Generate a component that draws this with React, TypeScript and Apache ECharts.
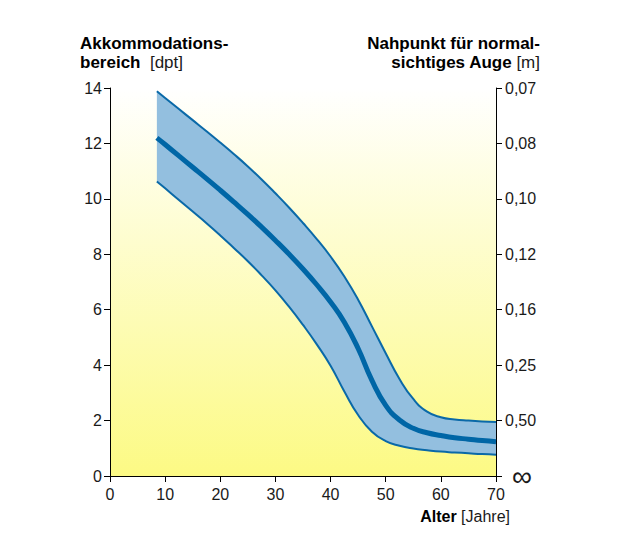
import React, { useEffect, useRef } from "react";
import * as echarts from "echarts";

const ages = [8.5, 10, 12.5, 15, 17.5, 20, 22.5, 25, 27.5, 30, 32.5, 35, 37.5, 40, 42.5, 45, 47.5, 50, 52.5, 55, 57.5, 60, 62.5, 65, 67.5, 70];
const upperValues = [13.88, 13.64, 13.24, 12.84, 12.44, 12.03, 11.61, 11.17, 10.7, 10.2, 9.68, 9.13, 8.55, 7.92, 7.2, 6.36, 5.4, 4.43, 3.5, 2.78, 2.32, 2.12, 2.04, 2.0, 1.97, 1.95];
const middleValues = [12.2, 11.96, 11.55, 11.14, 10.73, 10.31, 9.88, 9.44, 8.98, 8.5, 8.0, 7.47, 6.9, 6.28, 5.55, 4.6, 3.45, 2.55, 2.02, 1.72, 1.56, 1.46, 1.38, 1.33, 1.28, 1.24];
const lowerValues = [10.63, 10.38, 9.96, 9.54, 9.12, 8.68, 8.22, 7.75, 7.24, 6.7, 6.1, 5.45, 4.75, 3.98, 3.05, 2.2, 1.6, 1.26, 1.09, 0.99, 0.93, 0.88, 0.85, 0.82, 0.79, 0.77];
const leftTicks = [0, 2, 4, 6, 8, 10, 12, 14];
const rightTickLabels = ["∞", "0,50", "0,25", "0,16", "0,12", "0,10", "0,08", "0,07"];
const xTicks = [0, 10, 20, 30, 40, 50, 60, 70];

const FONT = "'Liberation Sans', Arial, sans-serif";

export default function App() {
  const ref = useRef<HTMLDivElement>(null);
  useEffect(() => {
    if (!ref.current) return;
    const chart = echarts.init(ref.current, null, { renderer: "svg" });
    const pairs = (vals: number[]) => ages.map((a, i) => [a, vals[i]]);
    // value first, age second, so that stacking happens on the value dimension
    const swapped = (vals: number[]) => ages.map((a, i) => [vals[i], a]);
    const bandWidth = upperValues.map((u, i) => u - lowerValues[i]);
    const lineColor = "#0a69a8";
    const smooth = 0.5;
    chart.setOption({
      animation: false,
      backgroundColor: "#ffffff",
      textStyle: { fontFamily: FONT },
      grid: {
        left: 110,
        right: 128,
        top: 88,
        bottom: 61,
        show: true,
        borderWidth: 0,
        backgroundColor: new echarts.graphic.LinearGradient(0, 0, 0, 1, [
          { offset: 0, color: "#ffffff" },
          { offset: 1, color: "#fcfa84" },
        ]),
      },
      xAxis: {
        type: "value",
        min: 0,
        max: 70,
        interval: 10,
        axisLine: { show: true, lineStyle: { color: "#000", width: 1 } },
        axisTick: { show: true, length: 6, lineStyle: { color: "#000" } },
        splitLine: { show: false },
        axisLabel: {
          margin: 10,
          fontSize: 16,
          color: "#1a1a1a",
          fontFamily: FONT,
          formatter: (v: number) => (xTicks.includes(v) ? String(v) : ""),
        },
      },
      yAxis: [
        {
          type: "value",
          min: 0,
          max: 14,
          interval: 2,
          position: "left",
          axisLine: { show: true, lineStyle: { color: "#000", width: 1 } },
          axisTick: { show: true, length: 6, lineStyle: { color: "#000" } },
          splitLine: { show: false },
          axisLabel: {
            margin: 8,
            fontSize: 16,
            color: "#1a1a1a",
            fontFamily: FONT,
            formatter: (v: number) => (leftTicks.includes(v) ? String(v) : ""),
          },
        },
        {
          type: "value",
          min: 0,
          max: 14,
          interval: 2,
          position: "right",
          axisLine: { show: true, lineStyle: { color: "#000", width: 1 } },
          axisTick: { show: true, length: 6, lineStyle: { color: "#000" } },
          splitLine: { show: false },
          axisLabel: {
            margin: 9,
            fontSize: 16,
            color: "#1a1a1a",
            fontFamily: FONT,
            formatter: (v: number) => {
              const idx = leftTicks.indexOf(v);
              if (idx === 0) return "{inf|∞}";
              return idx >= 0 ? rightTickLabels[idx] : "";
            },
            rich: {
              inf: { fontSize: 28, fontFamily: FONT, color: "#1a1a1a", padding: [0, 0, 0, 7] },
            },
          },
        },
      ],
      series: [
        {
          type: "line",
          stack: "band",
          data: swapped(lowerValues),
          encode: { x: 1, y: 0 },
          smooth,
          symbol: "none",
          lineStyle: { opacity: 0 },
          silent: true,
          z: 1,
        },
        {
          type: "line",
          stack: "band",
          data: swapped(bandWidth),
          encode: { x: 1, y: 0 },
          smooth,
          symbol: "none",
          lineStyle: { opacity: 0 },
          areaStyle: { color: "#93bfdf", opacity: 1 },
          silent: true,
          z: 1,
        },
        {
          type: "line",
          data: pairs(upperValues),
          smooth,
          symbol: "none",
          lineStyle: { color: lineColor, width: 2 },
          z: 3,
        },
        {
          type: "line",
          data: pairs(lowerValues),
          smooth,
          symbol: "none",
          lineStyle: { color: lineColor, width: 2 },
          z: 3,
        },
        {
          type: "line",
          data: pairs(middleValues),
          smooth,
          symbol: "none",
          lineStyle: { color: "#0066a6", width: 5 },
          z: 4,
        },
      ],
      graphic: [
        {
          type: "text",
          left: 80,
          top: 35,
          style: {
            text: "{b|Akkommodations-}\n{b|bereich}{n|  [dpt]}",
            rich: {
              b: { fontSize: 17, fontWeight: "bold", fontFamily: FONT, fill: "#000", lineHeight: 19 },
              n: { fontSize: 17, fontFamily: FONT, fill: "#1a1a1a", lineHeight: 19 },
            },
          },
        },
        {
          type: "text",
          right: 84,
          top: 35,
          style: {
            text: "{b|Nahpunkt für normal-}\n{b|sichtiges Auge}{n| [m]}",
            align: "right",
            rich: {
              b: { fontSize: 17, fontWeight: "bold", fontFamily: FONT, fill: "#000", lineHeight: 19, align: "right" },
              n: { fontSize: 17, fontFamily: FONT, fill: "#1a1a1a", lineHeight: 19, align: "right" },
            },
          },
        },
        {
          type: "text",
          right: 114,
          top: 508,
          style: {
            text: "{b|Alter}{n| [Jahre]}",
            rich: {
              b: { fontSize: 16, fontWeight: "bold", fontFamily: FONT, fill: "#000" },
              n: { fontSize: 16, fontFamily: FONT, fill: "#1a1a1a" },
            },
          },
        },
      ],
    });
    return () => chart.dispose();
  }, []);
  return <div ref={ref} style={{ width: 624, height: 537, margin: -8 }} />;
}
